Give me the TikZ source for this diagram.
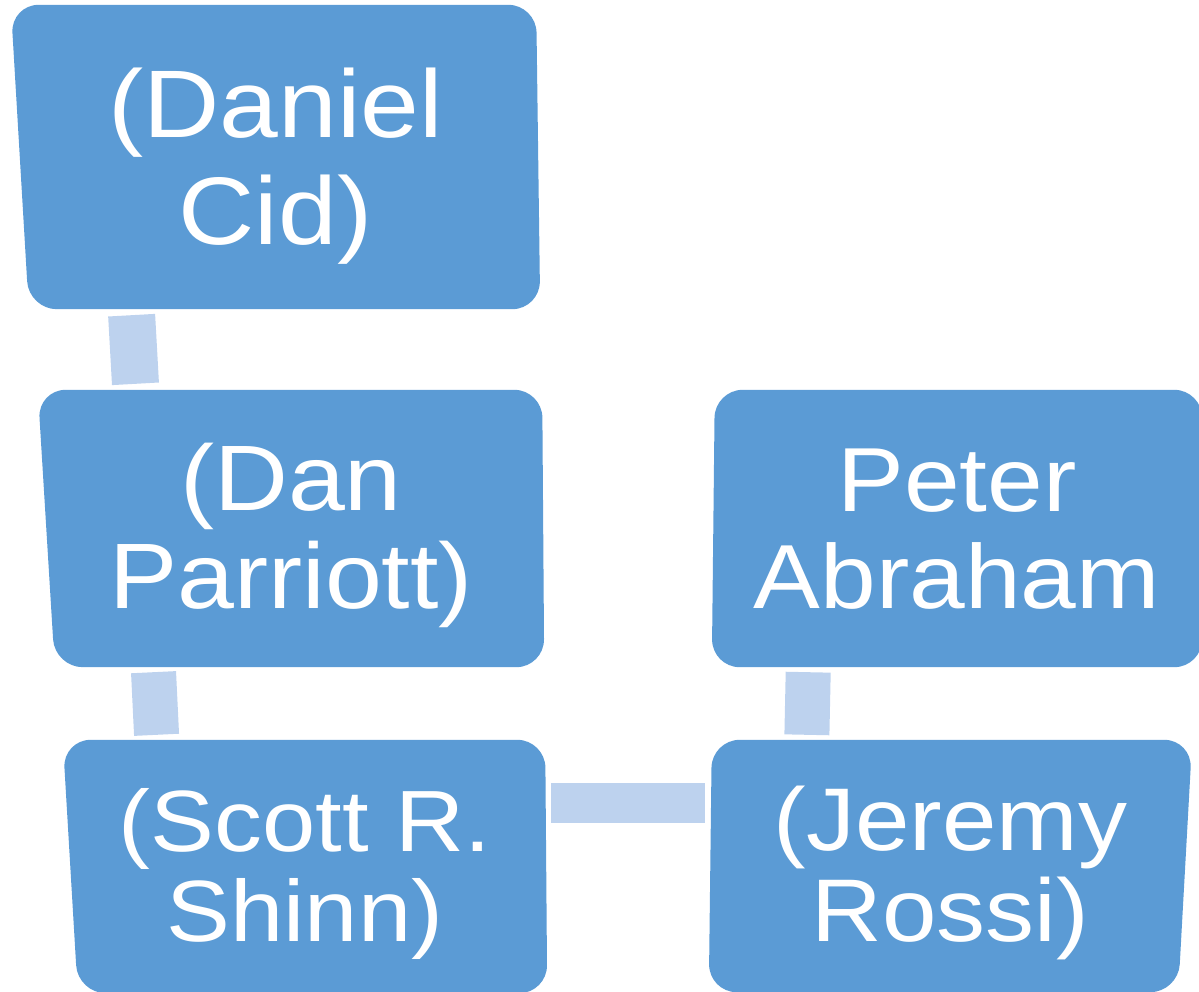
\documentclass[tikz,border=0pt]{standalone}
\usepackage{fontspec}
\newfontfamily\namefont[FakeStretch=1.1]{Liberation Sans}
\usetikzlibrary{backgrounds}
\definecolor{boxblue}{RGB}{91,155,213}
\definecolor{connblue}{RGB}{189,210,238}

\begin{document}
\begin{tikzpicture}[x=1pt,y=-1pt,
  person/.style={rectangle, inner sep=0pt, align=center, text=white},
  boxfill/.style={fill=boxblue, rounded corners=28pt},
  conn/.style={draw=connblue, line cap=butt}]

%% box behind a name: node, then x offsets of NW, NE, SE, SW corners
\newcommand\skewbox[5]{
  \fill[boxfill] ([xshift=#2pt]#1.north west) -- ([xshift=#3pt]#1.north east)
  -- ([xshift=#4pt]#1.south east) -- ([xshift=#5pt]#1.south west) -- cycle;}

  \useasboundingbox (0,0) rectangle (1199,992);

  %% names
  \node[person, minimum width=529pt, minimum height=304pt,
  text height=196pt, text depth=20pt,
  font=\namefont\fontsize{96}{107}\selectfont]
  (cid) at (275.5,157) {(Daniel\\Cid)};
  \node[person, minimum width=506pt, minimum height=277pt,
  text height=179pt, text depth=20pt,
  font=\namefont\fontsize{93}{98}\selectfont]
  (parriott) at (291,528.5) {(Dan\\Parriott)};
  \node[person, minimum width=484pt, minimum height=253pt,
  text height=169pt, text depth=20pt,
  font=\namefont\fontsize{87}{90}\selectfont]
  (shinn) at (305,866.5) {(Scott R.\\Shinn)};
  \node[person, minimum width=490pt, minimum height=277pt,
  text height=179pt, text depth=20pt,
  font=\namefont\fontsize{91}{97}\selectfont]
  (abraham) at (957,528.5) {Peter\\Abraham};
  \node[person, minimum width=483pt, minimum height=252pt,
  text height=170pt, text depth=20pt,
  font=\namefont\fontsize{89}{91}\selectfont]
  (rossi) at (950.5,866) {(Jeremy\\Rossi)};

  %% boxes
  \begin{pgfonlayer}{background}
  \skewbox{cid}{0}{-4}{0}{18}
  \skewbox{parriott}{0}{-2}{0}{17}
  \skewbox{shinn}{0}{-2}{0}{15}
  \skewbox{abraham}{3}{0}{0}{0}
  \skewbox{rossi}{3}{0}{-14}{0}
  \end{pgfonlayer}

  %% links
  \draw[conn, line width=47pt, shorten <=6pt, shorten >=6pt]
  ([xshift=120.5pt]cid.south west) -- ([xshift=98pt]parriott.north west);
  \draw[conn, line width=45pt, shorten <=5pt, shorten >=5pt]
  ([xshift=115.5pt]parriott.south west) -- ([xshift=94pt]shinn.north west);
  \draw[conn, line width=45pt, shorten <=5pt, shorten >=5pt]
  ([xshift=96.5pt]abraham.south west) -- ([xshift=98pt]rossi.north west);
  \draw[conn, line width=40pt, shorten <=4pt, shorten >=4pt]
  ([yshift=63.5pt]shinn.east) -- ([yshift=63pt]rossi.west);

\end{tikzpicture}
\end{document}
